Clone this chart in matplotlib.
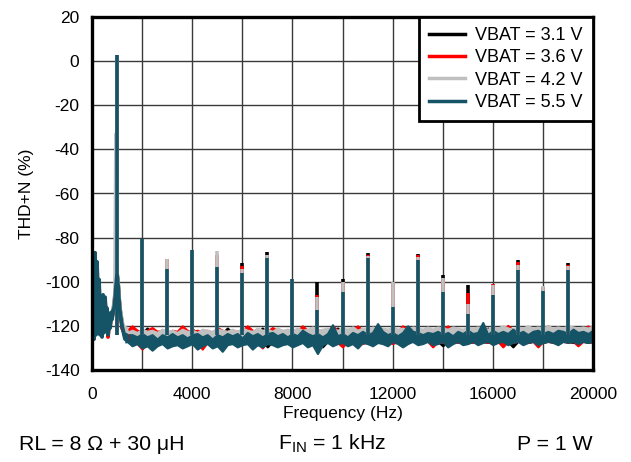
import numpy as np
import matplotlib
matplotlib.use("Agg")
import matplotlib.pyplot as plt

plt.rcParams['font.family'] = ['Liberation Sans', 'DejaVu Sans']
plt.rcParams['axes.unicode_minus'] = False
plt.rcParams['mathtext.fontset'] = 'custom'
plt.rcParams['mathtext.rm'] = 'Liberation Sans'

# ---------------- data ----------------
series_labels = ["VBAT = 3.1 V", "VBAT = 3.6 V", "VBAT = 4.2 V", "VBAT = 5.5 V"]
series_colors = ["#000000", "#ff0000", "#c0c0c0", "#155466"]

# sample grids (Hz)
f_low = np.arange(0, 1401, 40)         # 36 points, detailed low-frequency trace
f_band = np.arange(1400, 20001, 200)   # 94 points, noise-floor band (top / bottom)

harm_freq = [1000, 2000, 3000, 4000, 5000, 6000, 7000, 8000, 9000, 10000,
             11000, 12000, 13000, 14000, 15000, 16000, 17000, 18000, 19000]

# ---- VBAT = 3.1 V (black)
low_31 = [-126, -88, -124, -87, -123, -94, -120, -102, -123, -109, -124, -107, -122, -109,
          -120, -114, -123, -119, -120, -115, -116, -113, -111, -107, -101, -97, -101, -108,
          -113, -116, -119, -121, -123, -125, -123, -126]
top_31 = [-123,
          -123, -123.5, -123, -121, -123, -123.5, -123, -123, -123.5, -123,
          -123, -123.5, -121.5, -123, -123, -123.5, -123, -123, -123.5, -121,
          -123, -123.5, -123, -123, -123.5, -123, -121, -123, -123.5, -123,
          -123, -123.5, -123, -123, -121.5, -123, -123, -123.5, -123, -123,
          -123.5, -121, -123, -123, -123.5, -123, -123, -121.5, -123, -123.5,
          -123, -123, -123.5, -123, -121, -123, -123, -123.5, -123, -123,
          -123.5, -123, -123, -121.5, -123, -123, -123.5, -123, -123, -123.5,
          -123, -121, -123, -123.5, -123, -123, -123.5, -121, -123, -123,
          -123.5, -123, -123, -123.5, -121.5, -123, -123, -123.5, -123, -123,
          -123, -123.5, -123]
bot_31 = [-126,
          -127, -127.5, -127, -127, -129.5, -127, -127.5, -127, -127, -127.5,
          -127, -127, -127.5, -129, -127, -127, -127.5, -127, -127, -127.5,
          -127, -127.5, -127, -127, -127.5, -127, -127, -129.5, -127, -127,
          -127.5, -127, -127, -127.5, -127, -127, -127.5, -127, -129.5, -127,
          -127, -127.5, -127, -127, -127.5, -129, -127, -127, -127.5, -127,
          -127, -127.5, -127, -127, -127.5, -127, -127, -127.5, -127, -127,
          -127.5, -127, -129, -127, -127.5, -127, -127, -127.5, -127, -127,
          -127, -127.5, -127, -127, -127.5, -127, -129.5, -127, -127, -127.5,
          -127, -127, -127.5, -127, -127, -127.5, -127, -127, -127.5, -127,
          -127, -127.5, -127]
peaks_31 = [3, -81, -95, -86, -94, -91.5, -86.7, -99, -100, -98.8,
            -87, -110, -87.4, -97, -101.5, -103, -90, -103, -91.5]

# ---- VBAT = 3.6 V (red)
low_36 = [-127, -91, -125, -88, -122, -92, -121, -101, -122, -108, -124, -107, -121, -108,
          -120, -113, -125, -118, -120, -115, -116, -113, -111, -106, -101, -97, -101, -108,
          -113, -116, -121, -122, -123, -125, -122, -126]
top_36 = [-122,
          -120, -122, -122.5, -122, -120.8, -122.5, -122, -123, -122, -122.5,
          -120, -122, -122.5, -122, -122.5, -122, -123, -120.8, -122, -122.5,
          -122, -122.5, -122, -120, -122, -122.5, -122, -122.5, -120.8, -122,
          -122.5, -122, -122, -122.5, -120, -122, -122.5, -122, -122, -122.5,
          -120, -122, -122.5, -122, -122, -120, -122, -122.5, -122, -122,
          -122.5, -122, -122, -122.5, -120, -122, -122, -122.5, -122, -122,
          -122.5, -122, -122, -120, -122, -122.5, -122, -122, -122.5, -122,
          -120, -122, -122.5, -122, -122, -119.8, -122, -122.5, -122, -122,
          -122.5, -122, -122, -120, -122, -122, -122.5, -122, -122, -122.5,
          -122, -120, -122]
bot_36 = [-126,
          -127, -128, -130.5, -127.5, -127, -128, -127, -127.5, -128, -127,
          -127.5, -127, -128, -127, -130.5, -127.5, -127, -128, -127, -127.5,
          -128, -127, -127.5, -128, -127, -127.5, -130, -127, -127.5, -128,
          -127, -127.5, -127, -128, -127, -127.5, -127, -128, -127, -127.5,
          -127, -127.5, -129.5, -127, -127.5, -127, -128, -127, -127.5, -127,
          -127.5, -127, -128, -127, -127.5, -127, -127, -127.5, -127, -127,
          -129.5, -127, -127.5, -127, -127, -127.5, -127, -127, -127.5, -127,
          -127, -127.5, -127, -127, -129.5, -127, -127.5, -127, -127, -127.5,
          -127, -129.5, -127, -127, -127.5, -127, -127, -127.5, -127, -129,
          -127, -127, -127.5]
peaks_36 = [3, -81, -89.5, -85.5, -88, -93, -88, -99, -106, -100,
            -88, -100.5, -88, -99, -105, -101, -91, -102.5, -92.5]

# ---- VBAT = 4.2 V (gray)
low_42 = [-125, -90, -123, -88, -121, -93, -119, -100, -121, -107, -122, -106, -120, -108,
          -119, -113, -121, -117, -119, -114, -115, -112, -110, -105, -33, -96, -100, -107,
          -112, -115, -118, -120, -121, -122, -121, -123]
top_42 = [-123,
          -122, -123, -121.5, -122.5, -122, -123, -121.5, -122.5, -122, -123,
          -121.5, -122.5, -122, -123, -121.5, -122, -122.5, -121.5, -122, -122.5,
          -121.5, -122.5, -121, -122, -122.5, -121, -122, -121.5, -122.5, -121,
          -122, -121.5, -122, -121, -122, -121.5, -120.5, -122, -121.5, -121,
          -121.5, -122, -121, -121.5, -120.5, -122, -121, -121.5, -120.5, -121.5,
          -121, -121.5, -120.5, -121.5, -121, -122, -120.5, -121, -121.5, -120.5,
          -121.5, -120.5, -121, -121.5, -120.5, -121, -121.5, -120.5, -121, -120.5,
          -121, -121.5, -120.5, -121, -120, -121, -121.5, -120.5, -121, -120,
          -121, -120.5, -121, -120, -121, -120.5, -121, -120, -120.5, -121,
          -120.5, -121, -120]
bot_42 = [-124,
          -126, -125.5, -126.5, -126, -125.5, -126, -126.5, -126, -125.5, -126,
          -126.5, -126, -125.5, -126, -126.5, -126, -125.5, -126, -126.5, -126,
          -125.5, -126, -126.5, -126, -125.5, -126, -126.5, -126, -125.5, -126,
          -126, -126.5, -125.5, -126, -126, -126.5, -125.5, -126, -126, -126.5,
          -125.5, -126, -126, -126.5, -125.5, -126, -126, -126.5, -125.5, -126,
          -126, -125.5, -126.5, -126, -126, -125.5, -126.5, -126, -126, -125.5,
          -126.5, -126, -126, -125.5, -126.5, -126, -126, -125.5, -126.5, -126,
          -126, -126.5, -125.5, -126, -126, -126.5, -125.5, -126, -126, -126.5,
          -125.5, -126, -126, -126.5, -125.5, -126, -126, -126.5, -125.5, -126,
          -126, -125.5, -126]
peaks_42 = [3, -80.5, -89.7, -85.5, -85.9, -94, -88, -99, -107, -100,
            -88.5, -100.3, -89, -98.5, -110, -101.5, -92.5, -102, -93]

# ---- VBAT = 5.5 V (teal)
low_55 = [-127, -92, -126, -87, -124, -91, -122, -99, -124, -108, -125, -106, -123, -107,
          -121, -112, -124, -118, -121, -114, -117, -113, -112, -108, -102, -97, -102, -109,
          -114, -117, -120, -122, -124, -126, -124, -127]
top_55 = [-124,
          -124, -125, -123.5, -125, -124, -126, -124, -125, -123.5, -125,
          -124, -125.5, -124, -123.5, -125, -124, -126, -124, -125, -123.5,
          -124.5, -123.5, -125.5, -123, -124.5, -123.5, -125, -123.5, -123, -124.5,
          -123.5, -125, -123.5, -124.5, -122, -123.5, -124.5, -123.5, -125, -123.5,
          -119.5, -124.5, -123.5, -125, -123, -124, -122.5, -124, -123, -119,
          -122.5, -124, -123, -124.5, -123, -120, -122.5, -123, -124, -123,
          -123.5, -122.5, -124, -123, -124.5, -122.5, -123.5, -122, -123.5, -123,
          -118.5, -124, -122, -123.5, -122.5, -123.5, -121.5, -123.5, -122.5, -124,
          -122.5, -122, -123.5, -122.5, -123.5, -122, -122.5, -123.5, -121.5, -123,
          -122.5, -123.5, -122]
bot_55 = [-127,
          -129, -128, -130, -129, -131, -129, -128, -130, -129, -128.5,
          -130, -129, -128, -130.5, -129, -128, -130, -129, -131.5, -128.5,
          -128, -129.5, -128.5, -128, -130.5, -128.5, -129.5, -128, -128.5, -129.5,
          -128.5, -128, -129.5, -128.5, -127.5, -129.5, -128.5, -132.5, -128.5, -127.5,
          -129, -128, -127.5, -129, -128, -130, -127.5, -128, -129, -127.5,
          -128, -129, -127, -128, -129.5, -128, -127, -128.5, -128, -127,
          -128.5, -128, -127, -129.5, -128, -127, -128.5, -128, -127, -128.5,
          -127.5, -127, -128.5, -127.5, -127, -128.5, -127.5, -127, -128.5, -127.5,
          -127, -128.5, -127.5, -127, -127.5, -128.5, -127, -127.5, -127, -128,
          -127, -127.5, -127]
peaks_55 = [3, -80.6, -94.2, -85.5, -93.2, -96.2, -89.3, -98.8, -112.9, -104.5,
            -89.4, -111.4, -90, -104.5, -114.5, -106, -94.5, -104, -94.7]

lows = [low_31, low_36, low_42, low_55]
tops = [top_31, top_36, top_42, top_55]
bots = [bot_31, bot_36, bot_42, bot_55]
peaks = [peaks_31, peaks_36, peaks_42, peaks_55]

x_ticks = [0, 4000, 8000, 12000, 16000, 20000]
y_ticks = [-140, -120, -100, -80, -60, -40, -20, 0, 20]

# ---------------- figure ----------------
fig = plt.figure(figsize=(6.31, 4.62), dpi=100)
ax = fig.add_axes([92 / 631, 1 - 370 / 462, (593 - 92) / 631, (370 - 17) / 462])

handles = []
for lab, col, lo, tp, bt, pk in zip(series_labels, series_colors, lows, tops, bots, peaks):
    h, = ax.plot(f_low, lo, color=col, lw=2.8, label=lab)
    ax.fill_between(f_band, bt, tp, color=col, lw=1.6, edgecolor=col)
    ax.vlines(harm_freq, -124, pk, colors=col, lw=2.6)
    handles.append(h)

ax.set_xlim(0, 20000)
ax.set_ylim(-140, 20)
ax.set_xticks(x_ticks)
ax.set_xticks(range(0, 20001, 2000), minor=True)
ax.set_yticks(y_ticks)
ax.grid(which='both', color='#3a3a3a', lw=1.0)
ax.set_axisbelow(True)
ax.tick_params(which='both', length=0, labelsize=12.5)
ax.tick_params(axis='x', pad=12)
ax.tick_params(axis='y', pad=9)
for s in ax.spines.values():
    s.set_linewidth(2.4)

ax.set_xlabel("Frequency (Hz)", fontsize=12.5, labelpad=3)
ax.set_ylabel("THD+N (%)", fontsize=12.5, labelpad=8)

leg = ax.legend(handles=handles, loc='upper right', borderaxespad=0, fontsize=13,
                frameon=True, fancybox=False, handlelength=2.0, handletextpad=0.6,
                labelspacing=0.3, borderpad=0.55)
leg.get_frame().set_edgecolor('black')
leg.get_frame().set_linewidth(2.0)
leg.get_frame().set_alpha(1)
for lh in leg.get_lines():
    lh.set_linewidth(2.5)

fig.text(19 / 631, 1 - 444 / 462, "RL = 8 \u03A9 + 30 \u03BCH", fontsize=15.3, va='center', ha='left')
fig.text(278 / 631, 1 - 444 / 462, "F$_{\\mathregular{IN}}$ = 1 kHz", fontsize=15.3, va='center', ha='left')
fig.text(517 / 631, 1 - 444 / 462, "P = 1 W", fontsize=15.3, va='center', ha='left')

fig.savefig("out.png", dpi=100)
